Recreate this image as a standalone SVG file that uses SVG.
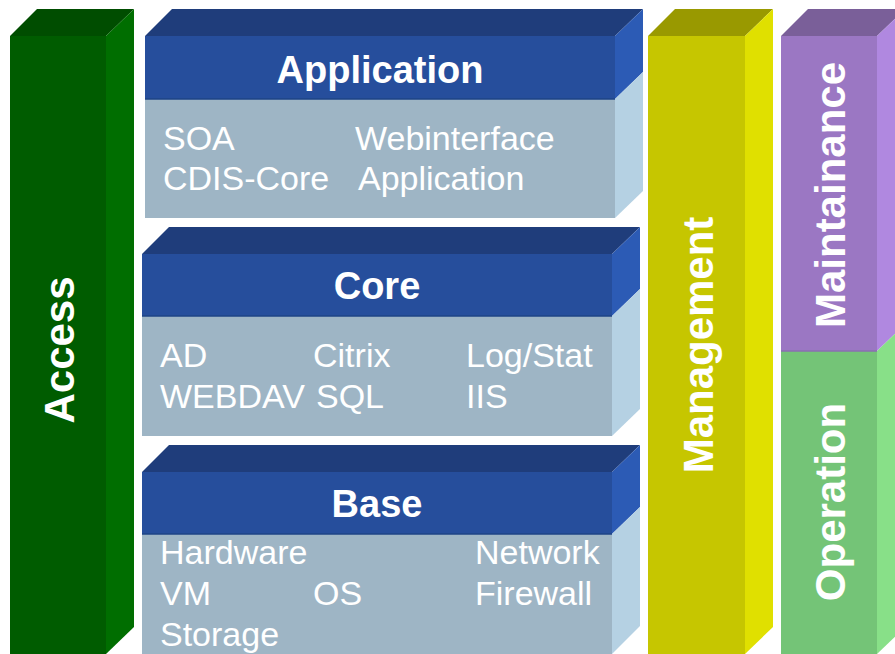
<svg xmlns="http://www.w3.org/2000/svg" width="895" height="654" viewBox="0 0 895 654">
  <style>
    text { fill: #ffffff; font-family: "Liberation Sans", Arial, sans-serif; }
    .title { font-size: 38px; font-weight: bold; text-anchor: middle; }
    .item { font-size: 34px; }
    .vtitle { font-size: 42px; font-weight: bold; text-anchor: middle; }
    .blueTop { fill: #1f3d7b; }
    .blueHead { fill: #264e9c; }
    .blueSide { fill: #2c5bb5; }
    .body { fill: #9eb5c5; }
    .bodySide { fill: #b5d1e3; }
    .headEdge { stroke: #1e4486; stroke-width: 1.5; }
  </style>
  <rect width="895" height="654" fill="#ffffff"/>

  <!-- Access pillar -->
  <g id="access">
    <polygon points="10,36 37,9 134,9 106,36" fill="#004d00"/>
    <rect x="10" y="36" width="96" height="618" fill="#005c00"/>
    <polygon points="106,36 134,9 134,627 106,654" fill="#006e00"/>
    <text class="vtitle" transform="translate(74,350) rotate(-90)">Access</text>
  </g>

  <!-- Application layer -->
  <g id="application">
    <polygon class="blueTop" points="145,36 172,9 643,9 615,36"/>
    <rect class="blueHead" x="145" y="36" width="470" height="63"/>
    <rect class="body" x="145" y="99" width="470" height="119"/>
    <line class="headEdge" x1="145" y1="99" x2="615" y2="99"/>
    <polygon class="blueSide" points="615,36 643,9 643,72 615,99"/>
    <polygon class="bodySide" points="615,99 643,72 643,191 615,218"/>
    <text class="title" x="380" y="83">Application</text>
    <text class="item" x="163" y="150">SOA</text>
    <text class="item" x="355" y="150">Webinterface</text>
    <text class="item" x="163" y="190">CDIS-Core</text>
    <text class="item" x="358" y="190">Application</text>
  </g>

  <!-- Core layer -->
  <g id="core">
    <polygon class="blueTop" points="142,254 169,227 640,227 612,254"/>
    <rect class="blueHead" x="142" y="254" width="470" height="62"/>
    <rect class="body" x="142" y="316" width="470" height="120"/>
    <line class="headEdge" x1="142" y1="316" x2="612" y2="316"/>
    <polygon class="blueSide" points="612,254 640,227 640,289 612,316"/>
    <polygon class="bodySide" points="612,316 640,289 640,409 612,436"/>
    <text class="title" x="377" y="299">Core</text>
    <text class="item" x="160" y="367">AD</text>
    <text class="item" x="313" y="367">Citrix</text>
    <text class="item" x="466" y="367">Log/Stat</text>
    <text class="item" x="160" y="408">WEBDAV</text>
    <text class="item" x="316" y="408">SQL</text>
    <text class="item" x="466" y="408">IIS</text>
  </g>

  <!-- Base layer -->
  <g id="base">
    <polygon class="blueTop" points="142,472 169,445 640,445 612,472"/>
    <rect class="blueHead" x="142" y="472" width="470" height="62"/>
    <rect class="body" x="142" y="534" width="470" height="120"/>
    <line class="headEdge" x1="142" y1="534" x2="612" y2="534"/>
    <polygon class="blueSide" points="612,472 640,445 640,507 612,534"/>
    <polygon class="bodySide" points="612,534 640,507 640,626 612,654"/>
    <text class="title" x="377" y="517">Base</text>
    <text class="item" x="160" y="564">Hardware</text>
    <text class="item" x="475" y="564">Network</text>
    <text class="item" x="160" y="605">VM</text>
    <text class="item" x="313" y="605">OS</text>
    <text class="item" x="475" y="605">Firewall</text>
    <text class="item" x="160" y="646">Storage</text>
  </g>

  <!-- Management pillar -->
  <g id="management">
    <polygon points="648,36 675,9 773,9 745,36" fill="#999900"/>
    <rect x="648" y="36" width="97" height="618" fill="#c6c600"/>
    <polygon points="745,36 773,9 773,627 745,654" fill="#e0e000"/>
    <text class="vtitle" transform="translate(713,345) rotate(-90)">Management</text>
  </g>

  <!-- Maintainance / Operation pillar -->
  <g id="maintainance">
    <polygon points="781,36 808,9 905,9 877,36" fill="#7a5f99"/>
    <rect x="781" y="36" width="96" height="315" fill="#9b77c3"/>
    <polygon points="877,36 905,9 905,324 877,351" fill="#b088e0"/>
    <text class="vtitle" transform="translate(845,195) rotate(-90)">Maintainance</text>
  </g>
  <g id="operation">
    <rect x="781" y="351" width="96" height="303" fill="#74c477"/>
    <polygon points="877,351 905,324 905,627 877,654" fill="#88e088"/>
    <line x1="781" y1="351" x2="877" y2="351" stroke="#8a6fb0" stroke-width="1.5"/>
    <text class="vtitle" transform="translate(845,502) rotate(-90)">Operation</text>
  </g>

  <g id="connectors"/>
</svg>
